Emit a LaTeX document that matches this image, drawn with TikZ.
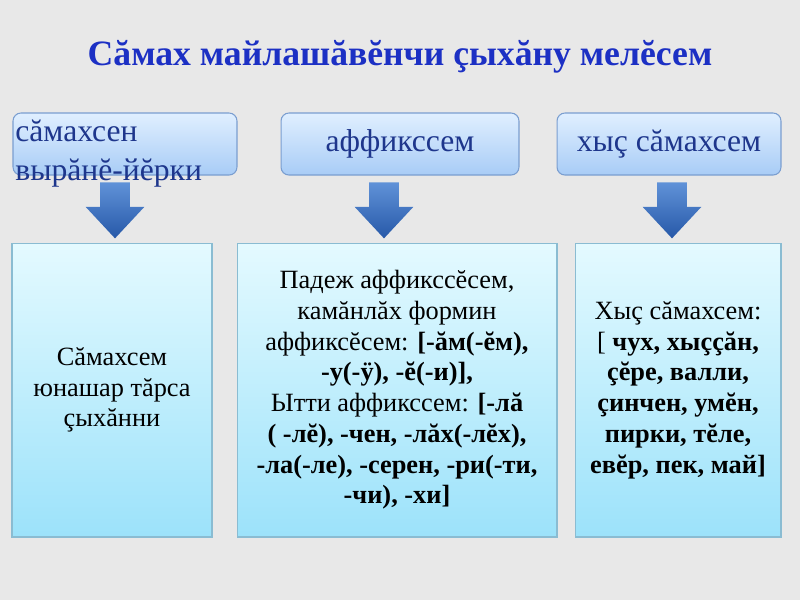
\documentclass[tikz,border=0pt]{standalone}
\usepackage{fontspec}
\setmainfont{Liberation Serif}
\usetikzlibrary{shapes.arrows}
\definecolor{BgClr}{RGB}{232,232,232}
\definecolor{TitleClr}{RGB}{28,48,196}
\definecolor{HeadClr}{RGB}{30,54,140}
\definecolor{HeadTop}{RGB}{224,239,255}
\definecolor{HeadBot}{RGB}{168,204,246}
\definecolor{HeadLine}{RGB}{122,158,208}
\definecolor{BoxTop}{RGB}{228,250,255}
\definecolor{BoxBot}{RGB}{156,226,250}
\definecolor{BoxLine}{RGB}{138,188,210}
\definecolor{ArrTop}{RGB}{96,146,216}
\definecolor{ArrBot}{RGB}{38,88,168}

\begin{document}
\begin{tikzpicture}[x=0.02cm,y=-0.02cm,
  head/.style={draw=HeadLine,line width=0.6pt,rounded corners=4.5pt,
    top color=HeadTop,bottom color=HeadBot,minimum height=1.24cm,
    text=HeadClr,font=\fontsize{18}{22}\selectfont,inner sep=0pt},
  info/.style={draw=BoxLine,line width=0.6pt,top color=BoxTop,bottom color=BoxBot,
    minimum height=5.88cm,align=center,font=\fontsize{15}{17.5}\selectfont,inner sep=0pt},
  downarr/.style={single arrow,shape border rotate=270,draw=none,
    top color=ArrTop,bottom color=ArrBot,inner sep=0.29cm,
    single arrow head extend=0.29cm,single arrow tip angle=86,
    minimum height=1.12cm,minimum width=1.16cm,anchor=tail}]

\fill[BgClr] (0,0) rectangle (800,600);

% title
\node[font=\bfseries\fontsize{20.3}{24}\selectfont,text=TitleClr] (title) at (400,57)
  {Сăмах майлашăвĕнчи çыхăну мелĕсем};

% top row
\node[head,minimum width=4.48cm] (t1) at (125,144) {};
\node[text=HeadClr,font=\fontsize{18}{22}\selectfont,align=left,inner sep=0pt,
  anchor=north west] (t1text) at (15,120) {сăмахсен\\вырăнĕ-йĕрки};
\node[head,minimum width=4.76cm] (t2) at (400,144) {аффикссем};
\node[head,minimum width=4.48cm] (t3) at (669,144) {хыç сăмахсем};

% arrows
\node[downarr] (a1) at (115,182) {};
\node[downarr] (a2) at (384,182) {};
\node[downarr] (a3) at (672,182) {};

% bottom row
\node[info,minimum width=4cm] (b1) at (112,390)
  {Сăмахсем\\юнашар тăрса\\çыхăнни};
\node[info,minimum width=6.4cm] (b2) at (397,390)
  {Падеж аффикссĕсем,\\
   камăнлăх формин\\
   аффиксĕсем: \textbf{[-ăм(-ĕм),}\\
   \textbf{-у(-ÿ), -ĕ(-и)],}\\
   Ытти аффикссем: \textbf{[-лă}\\
   \textbf{( -лĕ), -чен, -лăх(-лĕх),}\\
   \textbf{-ла(-ле), -серен, -ри(-ти,}\\
   \textbf{-чи), -хи]}};
\node[info,minimum width=4.12cm] (b3) at (678,390)
  {Хыç сăмахсем:\\
   {[} \textbf{чух, хыççăн,}\\
   \textbf{çĕре, валли,}\\
   \textbf{çинчен, умĕн,}\\
   \textbf{пирки, тĕле,}\\
   \textbf{евĕр, пек, май]}};

\end{tikzpicture}
\end{document}
